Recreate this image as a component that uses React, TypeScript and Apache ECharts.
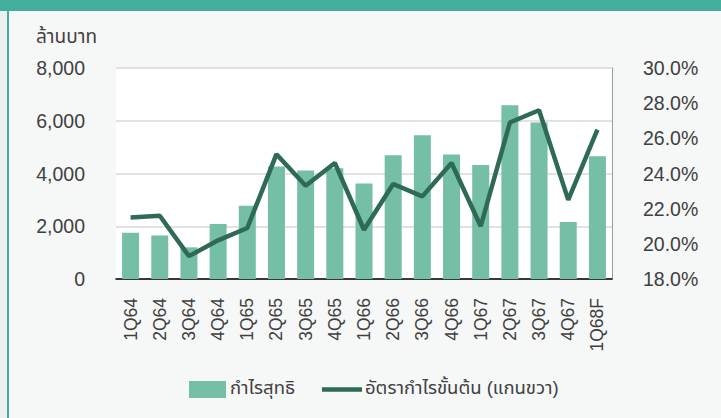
import React, { useEffect, useRef } from "react";
import * as echarts from "echarts";

const categories = ["1Q64","2Q64","3Q64","4Q64","1Q65","2Q65","3Q65","4Q65","1Q66","2Q66","3Q66","4Q66","1Q67","2Q67","3Q67","4Q67","1Q68F"];
const netProfit = [1750,1650,1200,2090,2780,4270,4110,4200,3620,4690,5450,4720,4320,6590,5930,2160,4650];
const grossMargin = [21.5,21.6,19.3,20.2,20.9,25.1,23.3,24.6,20.8,23.4,22.7,24.6,21.0,26.9,27.6,22.5,26.5];
const leftTicks = { min: 0, max: 8000, interval: 2000 };
const rightTicks = { min: 18, max: 30, interval: 2 };
const seriesNames = ["กำไรสุทธิ", "อัตรากำไรขั้นต้น (แกนขวา)"];
const unitLabel = "ล้านบาท";

const FONT = "'Liberation Sans', Arial, 'Noto Sans Thai', 'Leelawadee UI', sans-serif";
const TXT = "#404040";
const BAR = "#75bfa7";
const LINE = "#2e6a55";

export default function App() {
  const ref = useRef<HTMLDivElement>(null);
  useEffect(() => {
    if (!ref.current) return;
    const chart = echarts.init(ref.current, null, { renderer: "svg" });
    chart.setOption({
      animation: false,
      backgroundColor: "#eeefef",
      textStyle: { fontFamily: FONT },
      graphic: [
        { type: "rect", left: 9, top: 11, shape: { width: 712, height: 407 }, style: { fill: "#f6f7f7" }, z: -10 },
        { type: "rect", left: 0, top: 0, shape: { width: 721, height: 11 }, style: { fill: "#43ae9e" }, z: 10 },
        { type: "rect", left: 7, top: 0, shape: { width: 2, height: 418 }, style: { fill: "#43ae9e" }, z: 10 },
        { type: "text", left: 36, top: 27, style: { text: unitLabel, fontSize: 19, fill: TXT, fontFamily: FONT } },
        // legend
        { type: "rect", left: 189, top: 381, shape: { width: 37, height: 17 }, style: { fill: BAR } },
        { type: "text", left: 230, top: 378, style: { text: seriesNames[0], fontSize: 18.5, fill: TXT, fontFamily: FONT } },
        { type: "line", shape: { x1: 322, y1: 389.5, x2: 362, y2: 389.5 }, style: { stroke: LINE, lineWidth: 4.5 } },
        { type: "text", left: 365, top: 378, style: { text: seriesNames[1], fontSize: 18.5, fill: TXT, fontFamily: FONT } },
      ],
      grid: {
        left: 116, right: 109, top: 68, bottom: 139,
        show: true, backgroundColor: "#ffffff", borderWidth: 0,
      },
      legend: { show: false },
      xAxis: {
        type: "category",
        data: categories,
        axisLine: { lineStyle: { color: "#000", width: 1.5 } },
        axisTick: { show: false },
        axisLabel: { rotate: 90, fontSize: 17.5, color: TXT, margin: 19, fontFamily: FONT },
      },
      yAxis: [
        {
          type: "value", ...leftTicks,
          axisLine: { show: false }, axisTick: { show: false },
          axisLabel: {
            fontSize: 19.5, color: TXT, margin: 31, fontFamily: FONT,
            formatter: (v: number) => v.toLocaleString("en-US"),
          },
          splitLine: { lineStyle: { color: "#d9d9d9", width: 1.5 } },
        },
        {
          type: "value", ...rightTicks,
          position: "right",
          axisLine: { show: true, lineStyle: { color: "#9a9a9a", width: 1 } },
          axisTick: { show: false },
          axisLabel: {
            fontSize: 19.5, color: TXT, margin: 31, fontFamily: FONT,
            formatter: (v: number) => v.toFixed(1) + "%",
          },
          splitLine: { show: false },
        },
      ],
      series: [
        {
          name: seriesNames[0], type: "bar", data: netProfit,
          barWidth: 17, itemStyle: { color: BAR },
        },
        {
          name: seriesNames[1], type: "line", data: grossMargin, yAxisIndex: 1,
          symbol: "none", lineStyle: { color: LINE, width: 4.5 },
          itemStyle: { color: LINE },
        },
      ],
    });
    return () => chart.dispose();
  }, []);
  return <div ref={ref} style={{ position: "fixed", left: 0, top: 0, width: 721, height: 418 }} />;
}
